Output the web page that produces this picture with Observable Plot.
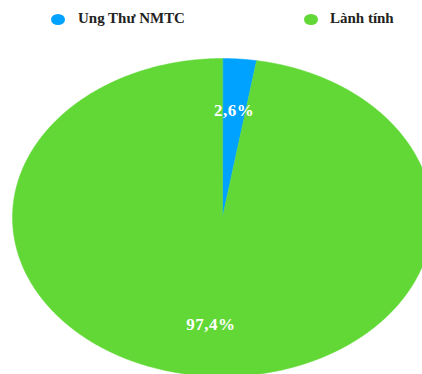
<!DOCTYPE html>
<html><head><meta charset="utf-8">
<script src="https://cdn.jsdelivr.net/npm/d3@7"></script>
<script src="https://cdn.jsdelivr.net/npm/@observablehq/plot@0.6"></script>
<style>
html,body{margin:0;padding:0;background:#fff;overflow:hidden;}
#wrap{position:relative;width:422px;height:374px;overflow:hidden;}
#legend{position:absolute;left:0;top:0;width:422px;height:40px;font-family:"Liberation Serif","Times New Roman",serif;font-weight:bold;font-size:14px;color:#222;}
.sw{position:absolute;width:14px;height:11px;border-radius:50%;}
.lb{position:absolute;white-space:nowrap;transform:scaleX(1.07);transform-origin:0 0;line-height:14px;}
#chart{position:absolute;left:0;top:0;}
#chart svg text{letter-spacing:0.5px;}
</style></head><body>
<div id="wrap"><div id="chart"></div><div id="legend"></div></div>
<script>
const categories = ["Ung Thư NMTC", "Lành tính"];
const values = [2.6, 97.4];
const valueLabels = ["2,6%", "97,4%"];
const colors = ["#00A2FF", "#61D836"];

const data = categories.map((c, i) => ({cat: c, value: values[i], label: valueLabels[i]}));
const arcs = d3.pie().sort(null).value(d => d.value)(data);

const pts = [];
arcs.forEach(p => {
  const cat = p.data.cat;
  pts.push({cat, x: 0, y: 0});
  const n = Math.max(4, Math.ceil((p.endAngle - p.startAngle) / 0.005));
  for (let k = 0; k <= n; k++) {
    const a = p.startAngle + (p.endAngle - p.startAngle) * k / n;
    pts.push({cat, x: Math.sin(a), y: Math.cos(a)});
  }
});
const labR = 0.675;
const labs = arcs.map(p => {
  const a = (p.startAngle + p.endAngle) / 2;
  return {x: labR * Math.sin(a), y: labR * Math.cos(a), text: p.data.label};
});

const chart = Plot.plot({
  width: 422, height: 374,
  marginTop: 0, marginRight: 0, marginBottom: 0, marginLeft: 0,
  x: {domain: [-1, 1], range: [12, 432], axis: null},
  y: {domain: [-1, 1], range: [376, 58], axis: null},
  color: {domain: categories, range: colors},
  style: {background: "white", overflow: "hidden"},
  marks: [
    Plot.line(pts, {x: "x", y: "y", z: "cat", fill: "cat", stroke: "cat", strokeWidth: 0.5, curve: "linear-closed"}),
    Plot.text(labs, {x: "x", y: "y", text: "text", fill: "white", fontSize: 17, fontWeight: "bold", fontFamily: "Liberation Serif, Times New Roman, serif"})
  ]
});
document.getElementById("chart").appendChild(chart);

const legend = document.getElementById("legend");
const legendPos = [{sw: 51, tx: 78}, {sw: 303.5, tx: 330}];
categories.forEach((c, i) => {
  const s = document.createElement("div");
  s.className = "sw";
  s.style.left = legendPos[i].sw + "px";
  s.style.top = "13.5px";
  s.style.background = colors[i];
  legend.appendChild(s);
  const t = document.createElement("div");
  t.className = "lb";
  t.style.left = legendPos[i].tx + "px";
  t.style.top = "12px";
  t.textContent = c;
  legend.appendChild(t);
});
</script>
</body></html>
